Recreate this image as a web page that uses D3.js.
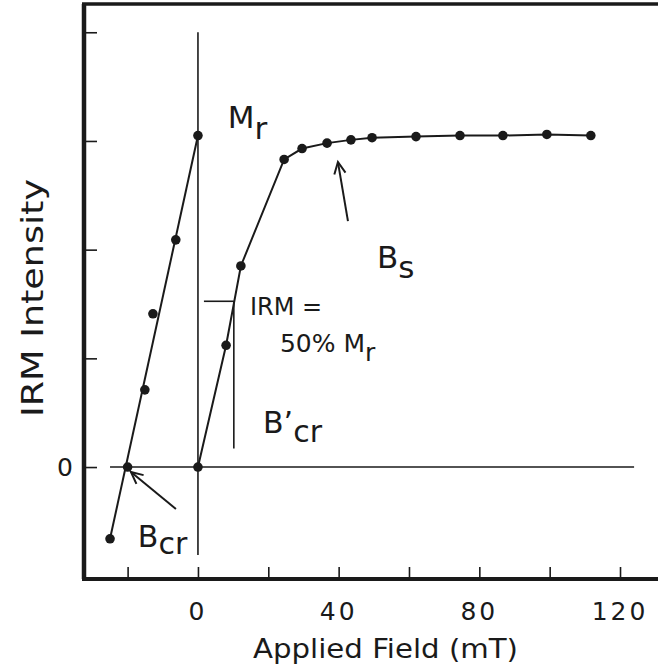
<!DOCTYPE html>
<html>
<head>
<meta charset="utf-8">
<script src="https://cdn.jsdelivr.net/npm/d3@7"></script>
<style>
  html, body { margin: 0; padding: 0; background: #fff; }
  svg { display: block; }
  text { font-family: "DejaVu Sans", sans-serif; fill: #1a1a1a; }
</style>
</head>
<body>
<svg id="chart" width="658" height="671"></svg>
<script>
// Backfield demagnetisation (negative fields) and IRM acquisition (positive fields)
const backField = [-25, -20, -15.1, -12.8, -6.3, 0];
const backIRM   = [-0.66, 0, 0.71, 1.41, 2.09, 3.05];

const acqField = [0, 8, 12.2, 24.5, 29.6, 36.7, 43.5, 49.5, 62, 74.5, 86.7, 99.2, 111.7];
const acqIRM   = [0, 1.12, 1.85, 2.83, 2.93, 2.98, 3.01, 3.03, 3.04, 3.05, 3.05, 3.06, 3.05];

const xTicks = [-20, 0, 20, 40, 60, 80, 100, 120];
const xTickLabels = [0, 40, 80, 120];
const yTicks = [0, 1, 2, 3, 4];
const yTickLabels = [0];

const Mr = 3.05;          // saturation remanence
const Bcr_prime = 10.2;   // field where IRM reaches 50% of Mr

const svg = d3.select("#chart");
const x = d3.scaleLinear().domain([-32.4, 130.8]).range([84, 658]);
const y = d3.scaleLinear().domain([-1.03, 4.26]).range([579, 4]);

const ink = "#1a1a1a";

// frame: left axis, bottom axis, top border
svg.append("line").attr("x1", x(-32.4)).attr("x2", x(-32.4)).attr("y1", y(4.26)).attr("y2", y(-1.03))
  .attr("stroke", ink).attr("stroke-width", 4.5);
svg.append("line").attr("x1", x(-32.4) - 2).attr("x2", x(130.8)).attr("y1", y(-1.03)).attr("y2", y(-1.03))
  .attr("stroke", ink).attr("stroke-width", 4);
svg.append("line").attr("x1", x(-32.4) - 2).attr("x2", x(130.8)).attr("y1", y(4.26)).attr("y2", y(4.26))
  .attr("stroke", ink).attr("stroke-width", 3.5);

// inward ticks
const xAxis = d3.axisTop(x).tickValues(xTicks).tickSize(12).tickFormat("");
const gx = svg.append("g").attr("transform", `translate(0,${y(-1.03)})`).call(xAxis);
gx.select(".domain").remove();
gx.selectAll(".tick line").attr("stroke", ink).attr("stroke-width", 1.6);

const yAxis = d3.axisRight(y).tickValues(yTicks).tickSize(13).tickFormat("");
const gy = svg.append("g").attr("transform", `translate(${x(-32.4)},0)`).call(yAxis);
gy.select(".domain").remove();
gy.selectAll(".tick line").attr("stroke", ink).attr("stroke-width", 1.6);

// tick labels
svg.selectAll(".xl").data(xTickLabels).enter().append("text")
  .attr("x", d => x(d)).attr("y", 620)
  .attr("text-anchor", "middle").attr("font-size", 25).attr("letter-spacing", 3)
  .text(d => d);
svg.selectAll(".yl").data(yTickLabels).enter().append("text")
  .attr("x", 65).attr("y", d => y(d) + 9)
  .attr("text-anchor", "middle").attr("font-size", 25)
  .text(d => d);

// axis titles
svg.append("text").attr("x", (253 + 518) / 2).attr("y", 658)
  .attr("text-anchor", "middle").attr("font-size", 26)
  .attr("textLength", 265).attr("lengthAdjust", "spacingAndGlyphs")
  .text("Applied Field (mT)");
svg.append("text").attr("transform", `translate(43,298) rotate(-90)`)
  .attr("text-anchor", "middle").attr("font-size", 30)
  .attr("textLength", 238).attr("lengthAdjust", "spacingAndGlyphs")
  .text("IRM Intensity");

// reference lines: zero intensity and zero field
svg.append("line").attr("x1", x(-25)).attr("x2", x(124)).attr("y1", y(0)).attr("y2", y(0))
  .attr("stroke", ink).attr("stroke-width", 1.6);
svg.append("line").attr("x1", x(0)).attr("x2", x(0)).attr("y1", y(4)).attr("y2", y(-0.81))
  .attr("stroke", ink).attr("stroke-width", 1.6);

// 50% Mr marker and B'cr drop line
svg.append("line").attr("x1", x(1.7)).attr("x2", x(Bcr_prime)).attr("y1", y(Mr / 2)).attr("y2", y(Mr / 2))
  .attr("stroke", ink).attr("stroke-width", 1.6);
svg.append("line").attr("x1", x(Bcr_prime)).attr("x2", x(Bcr_prime)).attr("y1", y(Mr / 2)).attr("y2", y(0.17))
  .attr("stroke", ink).attr("stroke-width", 1.6);

// backfield: straight line from first to last measurement
const line = d3.line().x(d => x(d[0])).y(d => y(d[1]));
const back = backField.map((f, i) => [f, backIRM[i]]);
svg.append("path").datum([back[0], back[back.length - 1]]).attr("d", line)
  .attr("fill", "none").attr("stroke", ink).attr("stroke-width", 2);

// acquisition curve
const acq = acqField.map((f, i) => [f, acqIRM[i]]);
svg.append("path").datum(acq).attr("d", line)
  .attr("fill", "none").attr("stroke", ink).attr("stroke-width", 2);

// measurement points
svg.selectAll(".pt").data(back.concat(acq)).enter().append("circle")
  .attr("cx", d => x(d[0])).attr("cy", d => y(d[1])).attr("r", 4.8).attr("fill", ink);

// arrows
function arrow(from, to) {
  const x1 = x(from[0]), y1 = y(from[1]), x2 = x(to[0]), y2 = y(to[1]);
  const a = Math.atan2(y2 - y1, x2 - x1), L = 13, w = 0.45;
  svg.append("line").attr("x1", x1).attr("y1", y1).attr("x2", x2).attr("y2", y2)
    .attr("stroke", ink).attr("stroke-width", 2);
  svg.append("path")
    .attr("d", `M${x2 - L * Math.cos(a - w)},${y2 - L * Math.sin(a - w)}L${x2},${y2}L${x2 - L * Math.cos(a + w)},${y2 - L * Math.sin(a + w)}`)
    .attr("fill", "none").attr("stroke", ink).attr("stroke-width", 2).attr("stroke-linejoin", "miter");
}
arrow([-6.26, -0.386], [-19.05, -0.046]);
arrow([42.65, 2.263], [39.8, 2.806]);

// annotations with subscripts
function label(px, py, main, sub, size, subDy) {
  const t = svg.append("text").attr("x", x(px)).attr("y", y(py)).attr("font-size", size);
  t.append("tspan").text(main);
  if (sub) t.append("tspan").attr("dy", subDy).text(sub);
  return t;
}
label(8.5, 3.12, "M", "r", 31, 11);
label(50.9, 1.83, "B", "s", 31, 10);
label(14.8, 1.40, "IRM =", null, 24, 0);
label(23.3, 1.06, "50% M", "r", 25, 9);
label(18.5, 0.31, "B\u2019", "cr", 30, 9);
label(-17.1, -0.74, "B", "cr", 30, 7);
</script>
</body>
</html>
